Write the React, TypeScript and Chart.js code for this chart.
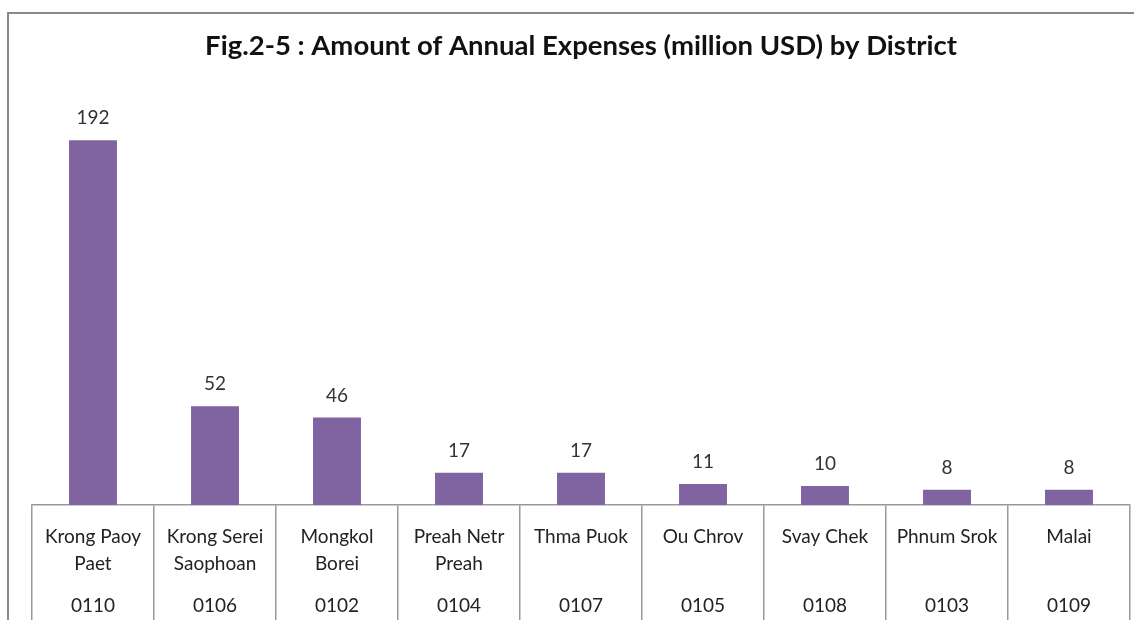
import React, { useEffect, useRef } from "react";
import { Chart, registerables } from "chart.js";

Chart.register(...registerables);

const titleText = "Fig.2-5 : Amount of Annual Expenses (million USD) by District";
const nameLine1 = ["Krong Paoy", "Krong Serei", "Mongkol", "Preah Netr", "Thma Puok", "Ou Chrov", "Svay Chek", "Phnum Srok", "Malai"];
const nameLine2 = ["Paet", "Saophoan", "Borei", "Preah", "", "", "", "", ""];
const codes = ["0110", "0106", "0102", "0104", "0107", "0105", "0108", "0103", "0109"];
const expenses = [192, 52, 46, 17, 17, 11, 10, 8, 8];

const valueLabels = {
  id: "valueLabels",
  afterDatasetsDraw(chart: any) {
    const ctx = chart.ctx;
    const meta = chart.getDatasetMeta(0);
    ctx.save();
    ctx.font = "19px Lato";
    ctx.fillStyle = "#333";
    ctx.textAlign = "center";
    ctx.textBaseline = "middle";
    meta.data.forEach((bar: any, i: number) => {
      ctx.fillText(String(chart.data.datasets[0].data[i]), bar.x, bar.y - 22);
    });
    ctx.restore();
  },
};

const tableLabels = {
  id: "tableLabels",
  afterDraw(chart: any) {
    const ctx = chart.ctx;
    const xs = chart.scales.x;
    const top = xs.top;
    ctx.save();
    ctx.font = "19px Lato";
    ctx.fillStyle = "#222";
    ctx.textAlign = "center";
    ctx.textBaseline = "middle";
    (chart.data.labels as string[][]).forEach((lab, i) => {
      const x = xs.getPixelForValue(i);
      ctx.fillText(lab[0], x, top + 32);
      if (lab[1]) ctx.fillText(lab[1], x, top + 59);
      ctx.fillText(lab[2], x, top + 101);
    });
    ctx.restore();
  },
};

export default function App() {
  const ref = useRef<HTMLCanvasElement>(null);
  useEffect(() => {
    if (!ref.current) return;
    const labels = nameLine1.map((n, i) => [n, nameLine2[i], codes[i]]);
    const chart = new Chart(ref.current, {
      type: "bar",
      data: {
        labels,
        datasets: [
          {
            data: expenses,
            backgroundColor: "#8064A2",
            categoryPercentage: 1,
            barPercentage: 0.393,
          },
        ],
      },
      options: {
        animation: false,
        responsive: false,
        maintainAspectRatio: false,
        layout: { padding: { left: 32, right: 4, top: 0, bottom: 0 } },
        plugins: {
          legend: { display: false },
          tooltip: { enabled: false },
          title: {
            display: true,
            text: titleText,
            color: "#111",
            font: { family: "Lato", size: 27.5, weight: "bold", lineHeight: 1.2 },
            padding: { top: 29.5, bottom: 62.5 },
          },
        },
        scales: {
          y: { display: false, min: 0, max: 200 },
          x: {
            border: { display: true, color: "#999", width: 1.5 },
            grid: {
              display: true,
              drawOnChartArea: false,
              drawTicks: true,
              tickLength: 115,
              color: "#999",
              lineWidth: 1.5,
              offset: true,
            },
            ticks: { display: false },
          },
        },
      },
      plugins: [valueLabels, tableLabels],
    });
    return () => chart.destroy();
  }, []);
  return (
    <div style={{ position: "absolute", left: 0, top: 0, width: 1134, height: 620, background: "#fff", overflow: "hidden" }}>
      <div style={{ position: "absolute", left: 7, top: 12, width: 1140, height: 620, borderLeft: "2px solid #888", borderTop: "2px solid #888" }} />
      <canvas ref={ref} width={1134} height={620} style={{ position: "absolute", left: 0, top: 0 }} />
    </div>
  );
}
